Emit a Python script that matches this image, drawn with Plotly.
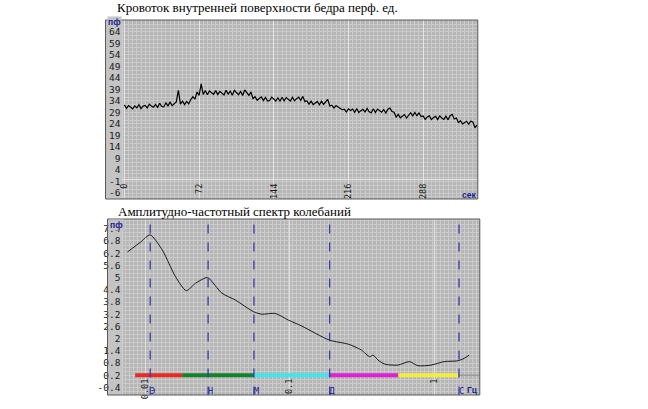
import numpy as np
import plotly.graph_objects as go

# --- кровоток (перф. ед.) через каждые 2 сек ---
flow_t = list(range(0, 342, 2))
flow_val = [
    32.3, 30.8, 32.0, 31.4, 30.6, 31.9, 31.0, 32.4, 30.7, 31.8,
    32.1, 31.0, 32.6, 31.8, 31.3, 32.5, 31.2, 33.0, 31.6, 31.5,
    33.2, 31.9, 33.5, 32.0, 32.9, 33.6, 38.6, 32.6, 33.9, 32.4,
    33.8, 32.7, 34.6, 35.9, 34.8, 37.9, 36.4, 41.4, 36.8, 38.6,
    36.7, 38.4, 37.6, 36.9, 38.5, 36.8, 38.2, 37.4, 36.6, 38.7,
    37.0, 38.3, 36.5, 38.6, 37.8, 36.7, 38.1, 36.4, 38.8, 37.5,
    36.4, 37.9, 35.0, 35.9, 34.3, 35.1, 35.8, 34.2, 35.6, 34.0,
    34.2, 35.7, 34.8, 34.0, 35.4, 33.9, 35.6, 34.1, 35.5, 34.6,
    34.0, 35.6, 34.1, 35.0, 35.7, 34.3, 36.0, 33.8, 34.0, 32.6,
    33.9, 32.4, 33.1, 33.8, 32.3, 33.9, 32.5, 33.7, 34.7, 31.8,
    32.2, 30.9, 32.0, 31.4, 30.8, 30.2, 30.4, 29.2, 30.6, 29.9,
    30.5, 29.1, 30.7, 29.0, 29.8, 30.4, 29.2, 30.8, 29.3, 28.9,
    30.6, 29.0, 30.5, 29.7, 29.1, 30.3, 28.8, 30.4, 30.9, 29.4,
    29.1, 27.0, 28.2, 26.7, 27.5, 28.1, 26.6, 28.0, 28.9, 27.5,
    29.0, 27.6, 28.8, 27.2, 27.5, 26.0, 27.1, 27.6, 25.9, 26.8,
    27.3, 25.9, 27.5, 26.6, 26.0, 27.4, 25.8, 27.6, 28.2, 26.2,
    26.6, 24.6, 25.4, 24.0, 24.7, 25.2, 23.9, 25.3, 24.8, 22.4,
    23.5,
]
flow_ticks = [0, 72, 144, 216, 288]
flow_yticks = [64, 59, 54, 49, 44, 39, 34, 29, 24, 19, 14, 9, 4, -1, -6]

# --- амплитудно-частотный спектр ---
spec_f = [0.00752, 0.00935, 0.01077, 0.01309, 0.01455, 0.01618, 0.01918, 0.02224,
          0.02635, 0.0275, 0.03396, 0.04196, 0.05623, 0.06412, 0.07925, 0.098,
          0.1211, 0.1879, 0.2542, 0.3139, 0.3584, 0.3779, 0.4089, 0.4544,
          0.562, 0.6758, 0.7722, 0.9535, 1.178, 1.456, 1.617, 1.75]
spec_amp = [6.26, 6.77, 7.10, 6.36, 5.70, 5.04, 4.36, 4.72,
            5.00, 4.97, 4.23, 3.90, 3.32, 3.20, 3.24, 2.91,
            2.62, 1.93, 1.73, 1.44, 1.11, 1.19, 0.95, 0.75,
            0.70, 0.87, 0.67, 0.70, 0.87, 0.91, 1.03, 1.19]
spec_yticks = [7.4, 6.8, 6.2, 5.6, 5, 4.4, 3.8, 3.2, 2.6, 2, 1.4, 0.8, 0.2, -0.4]
spec_xticks = [0.01, 0.1, 1]
peak_f = [0.0108, 0.0272, 0.0565, 0.189, 1.49]
peak_names = ["Э", "Н", "М", "Д", "С"]
band_edges = [0.0085, 0.018, 0.0565, 0.189, 0.565, 1.47]
band_colors = ["#e82a22", "#14822a", "#3ee6ee", "#e020d2", "#f4ee3c"]
band_level = 0.2

W, H = 648, 409
BG = "#b6b6b6"
COL_BG = "#c4c4c4"
NAVY = "#1c1c8c"
FRAME = "#5a5a5a"
tick_font = dict(family="DejaVu Sans Mono", size=9.5, color="#1a1a1a")
xtick_font = dict(family="DejaVu Sans Mono", size=8.5, color="#1a1a1a")


def px(x):
    return x / W


def py(y):
    return 1 - y / H


# пиксельные границы рамок графиков
top_box = (103, 120, 477, 20, 199)     # левый край, начало сетки, правый край, верх, низ
bot_box = (105, 120, 479, 219, 395)
top_label_line = 181                   # откуда начинаются повернутые подписи оси X
bot_label_line = 376

fig = go.Figure()

# верхний график
fig.add_trace(go.Scatter(x=flow_t, y=flow_val, mode="lines",
                         line=dict(color="black", width=1.2),
                         xaxis="x", yaxis="y", showlegend=False))

# нижний график
fig.add_trace(go.Scatter(x=spec_f, y=spec_amp, mode="lines",
                         line=dict(color="#1a1a1a", width=1, shape="spline", smoothing=0.7),
                         xaxis="x2", yaxis="y2", showlegend=False))

fig.add_trace(go.Scatter(x=[band_edges[0], 2.2], y=[band_level, band_level], mode="lines",
                         line=dict(color="#8a8a8a", width=1),
                         xaxis="x2", yaxis="y2", showlegend=False))

for i, c in enumerate(band_colors):
    fig.add_trace(go.Scatter(x=[band_edges[i], band_edges[i + 1]], y=[band_level, band_level],
                             mode="lines", line=dict(color=c, width=4),
                             xaxis="x2", yaxis="y2", showlegend=False))

for f in peak_f:
    fig.add_trace(go.Scatter(x=[f, f], y=[-0.8, 7.9], mode="lines",
                             line=dict(color="#3a3ab0", width=1.3, dash="dash"),
                             xaxis="x2", yaxis="y2", showlegend=False))

fig.add_trace(go.Scatter(x=peak_f, y=[-0.6] * len(peak_f), mode="text",
                         text=peak_names, textposition="middle right",
                         textfont=dict(family="DejaVu Sans Mono", size=8.5, color=NAVY),
                         xaxis="x2", yaxis="y2", showlegend=False))

# пустые серии, чтобы оси с подписями X попали в свои подграфики
fig.add_trace(go.Scatter(x=[], y=[], xaxis="x3", yaxis="y", showlegend=False))
fig.add_trace(go.Scatter(x=[], y=[], xaxis="x4", yaxis="y2", showlegend=False))

grid_minor = dict(showgrid=True, gridcolor="#cbcbcb", gridwidth=1)


def axis_box(box):
    left, grid_left, right, top, bottom = box
    return [py(bottom), py(top)], [px(grid_left), px(right)]


top_y, top_x = axis_box(top_box)
bot_y, bot_x = axis_box(bot_box)
top_range = [-1.9, 340.7]
bot_range = [-2.159, 0.317]

fig.update_layout(
    width=W, height=H,
    paper_bgcolor="white", plot_bgcolor=BG,
    margin=dict(l=0, r=0, t=0, b=0),
    hovermode=False,
    xaxis=dict(domain=top_x, range=top_range, anchor="y", showticklabels=False,
               tickvals=flow_ticks, ticks="", showgrid=True, gridcolor="#e6e6e6", gridwidth=1,
               minor=dict(tick0=0, dtick=4, **grid_minor),
               zeroline=False, showline=False),
    xaxis3=dict(domain=top_x, range=top_range, overlaying="x", anchor="free",
                position=py(top_label_line), side="bottom",
                tickvals=flow_ticks, tickangle=-90, tickfont=xtick_font, ticks="",
                showgrid=False, zeroline=False, showline=False),
    yaxis=dict(domain=top_y, range=[-8.6, 69.2], anchor="x",
               tickvals=flow_yticks, ticktext=[str(v) for v in flow_yticks],
               tickfont=tick_font, ticks="", ticklabelstandoff=1,
               showgrid=False, minor=dict(tick0=-6, dtick=5 / 3, **grid_minor),
               zeroline=True, zerolinecolor="#e6e6e6", zerolinewidth=1, showline=False),
    xaxis2=dict(domain=bot_x, type="log", range=bot_range, anchor="y2", showticklabels=False,
                tickvals=spec_xticks, ticks="", showgrid=True, gridcolor="#e0e0e0",
                minor=dict(tick0=-2, dtick=0.0276, **grid_minor),
                zeroline=False, showline=False),
    xaxis4=dict(domain=bot_x, type="log", range=bot_range, overlaying="x2", anchor="free",
                position=py(bot_label_line), side="bottom",
                tickvals=spec_xticks, ticktext=["0.01", "0.1", "1"], tickangle=-90,
                tickfont=xtick_font, ticks="", showgrid=False, zeroline=False, showline=False),
    yaxis2=dict(domain=bot_y, range=[-0.77, 7.88], anchor="x2",
                tickvals=spec_yticks, ticktext=[str(v) for v in spec_yticks],
                tickfont=tick_font, ticks="", ticklabelstandoff=1,
                showgrid=False, minor=dict(tick0=-0.4, dtick=0.2, **grid_minor),
                zeroline=False, showline=False),
)

# колонка подписей и рамка
for left, grid_left, right, top, bottom in (top_box, bot_box):
    fig.add_shape(type="rect", xref="paper", yref="paper", layer="below",
                  x0=px(left), x1=px(grid_left), y0=py(bottom), y1=py(top),
                  fillcolor=COL_BG, line=dict(width=0))
    fig.add_shape(type="rect", xref="paper", yref="paper", layer="above",
                  x0=px(left), x1=px(right), y0=py(bottom), y1=py(top),
                  line=dict(color=FRAME, width=1))

title_font = dict(family="Liberation Serif", size=13, color="black")
fig.add_annotation(text="Кровоток внутренней поверхности бедра перф. ед.",
                   x=px(113), y=py(8), xref="paper", yref="paper",
                   xanchor="left", yanchor="middle", showarrow=False, font=title_font)
fig.add_annotation(text="Амплитудно-частотный спектр колебаний",
                   x=px(114), y=py(211), xref="paper", yref="paper",
                   xanchor="left", yanchor="middle", showarrow=False, font=title_font)

unit_font = dict(family="Liberation Sans", size=8.5, color=NAVY)
fig.add_annotation(text="<b>пф</b>", x=px(104), y=py(22), xref="paper", yref="paper",
                   xanchor="left", yanchor="middle", showarrow=False, font=unit_font,
                   bgcolor=COL_BG, borderpad=0)
fig.add_annotation(text="<b>пф</b>", x=px(106), y=py(225), xref="paper", yref="paper",
                   xanchor="left", yanchor="middle", showarrow=False, font=unit_font,
                   bgcolor=COL_BG, borderpad=0)
fig.add_annotation(text="<b>сек</b>", x=px(477), y=py(195), xref="paper", yref="paper",
                   xanchor="right", yanchor="middle", showarrow=False, font=unit_font)
fig.add_annotation(text="<b>Гц</b>", x=px(479), y=py(390), xref="paper", yref="paper",
                   xanchor="right", yanchor="middle", showarrow=False, font=unit_font)

# у страницы по умолчанию поле 8px - убираем, чтобы фигура совпала с окном
fig.write_html("out.html", config={"displayModeBar": False},
               post_script="document.body.style.margin='0';")
